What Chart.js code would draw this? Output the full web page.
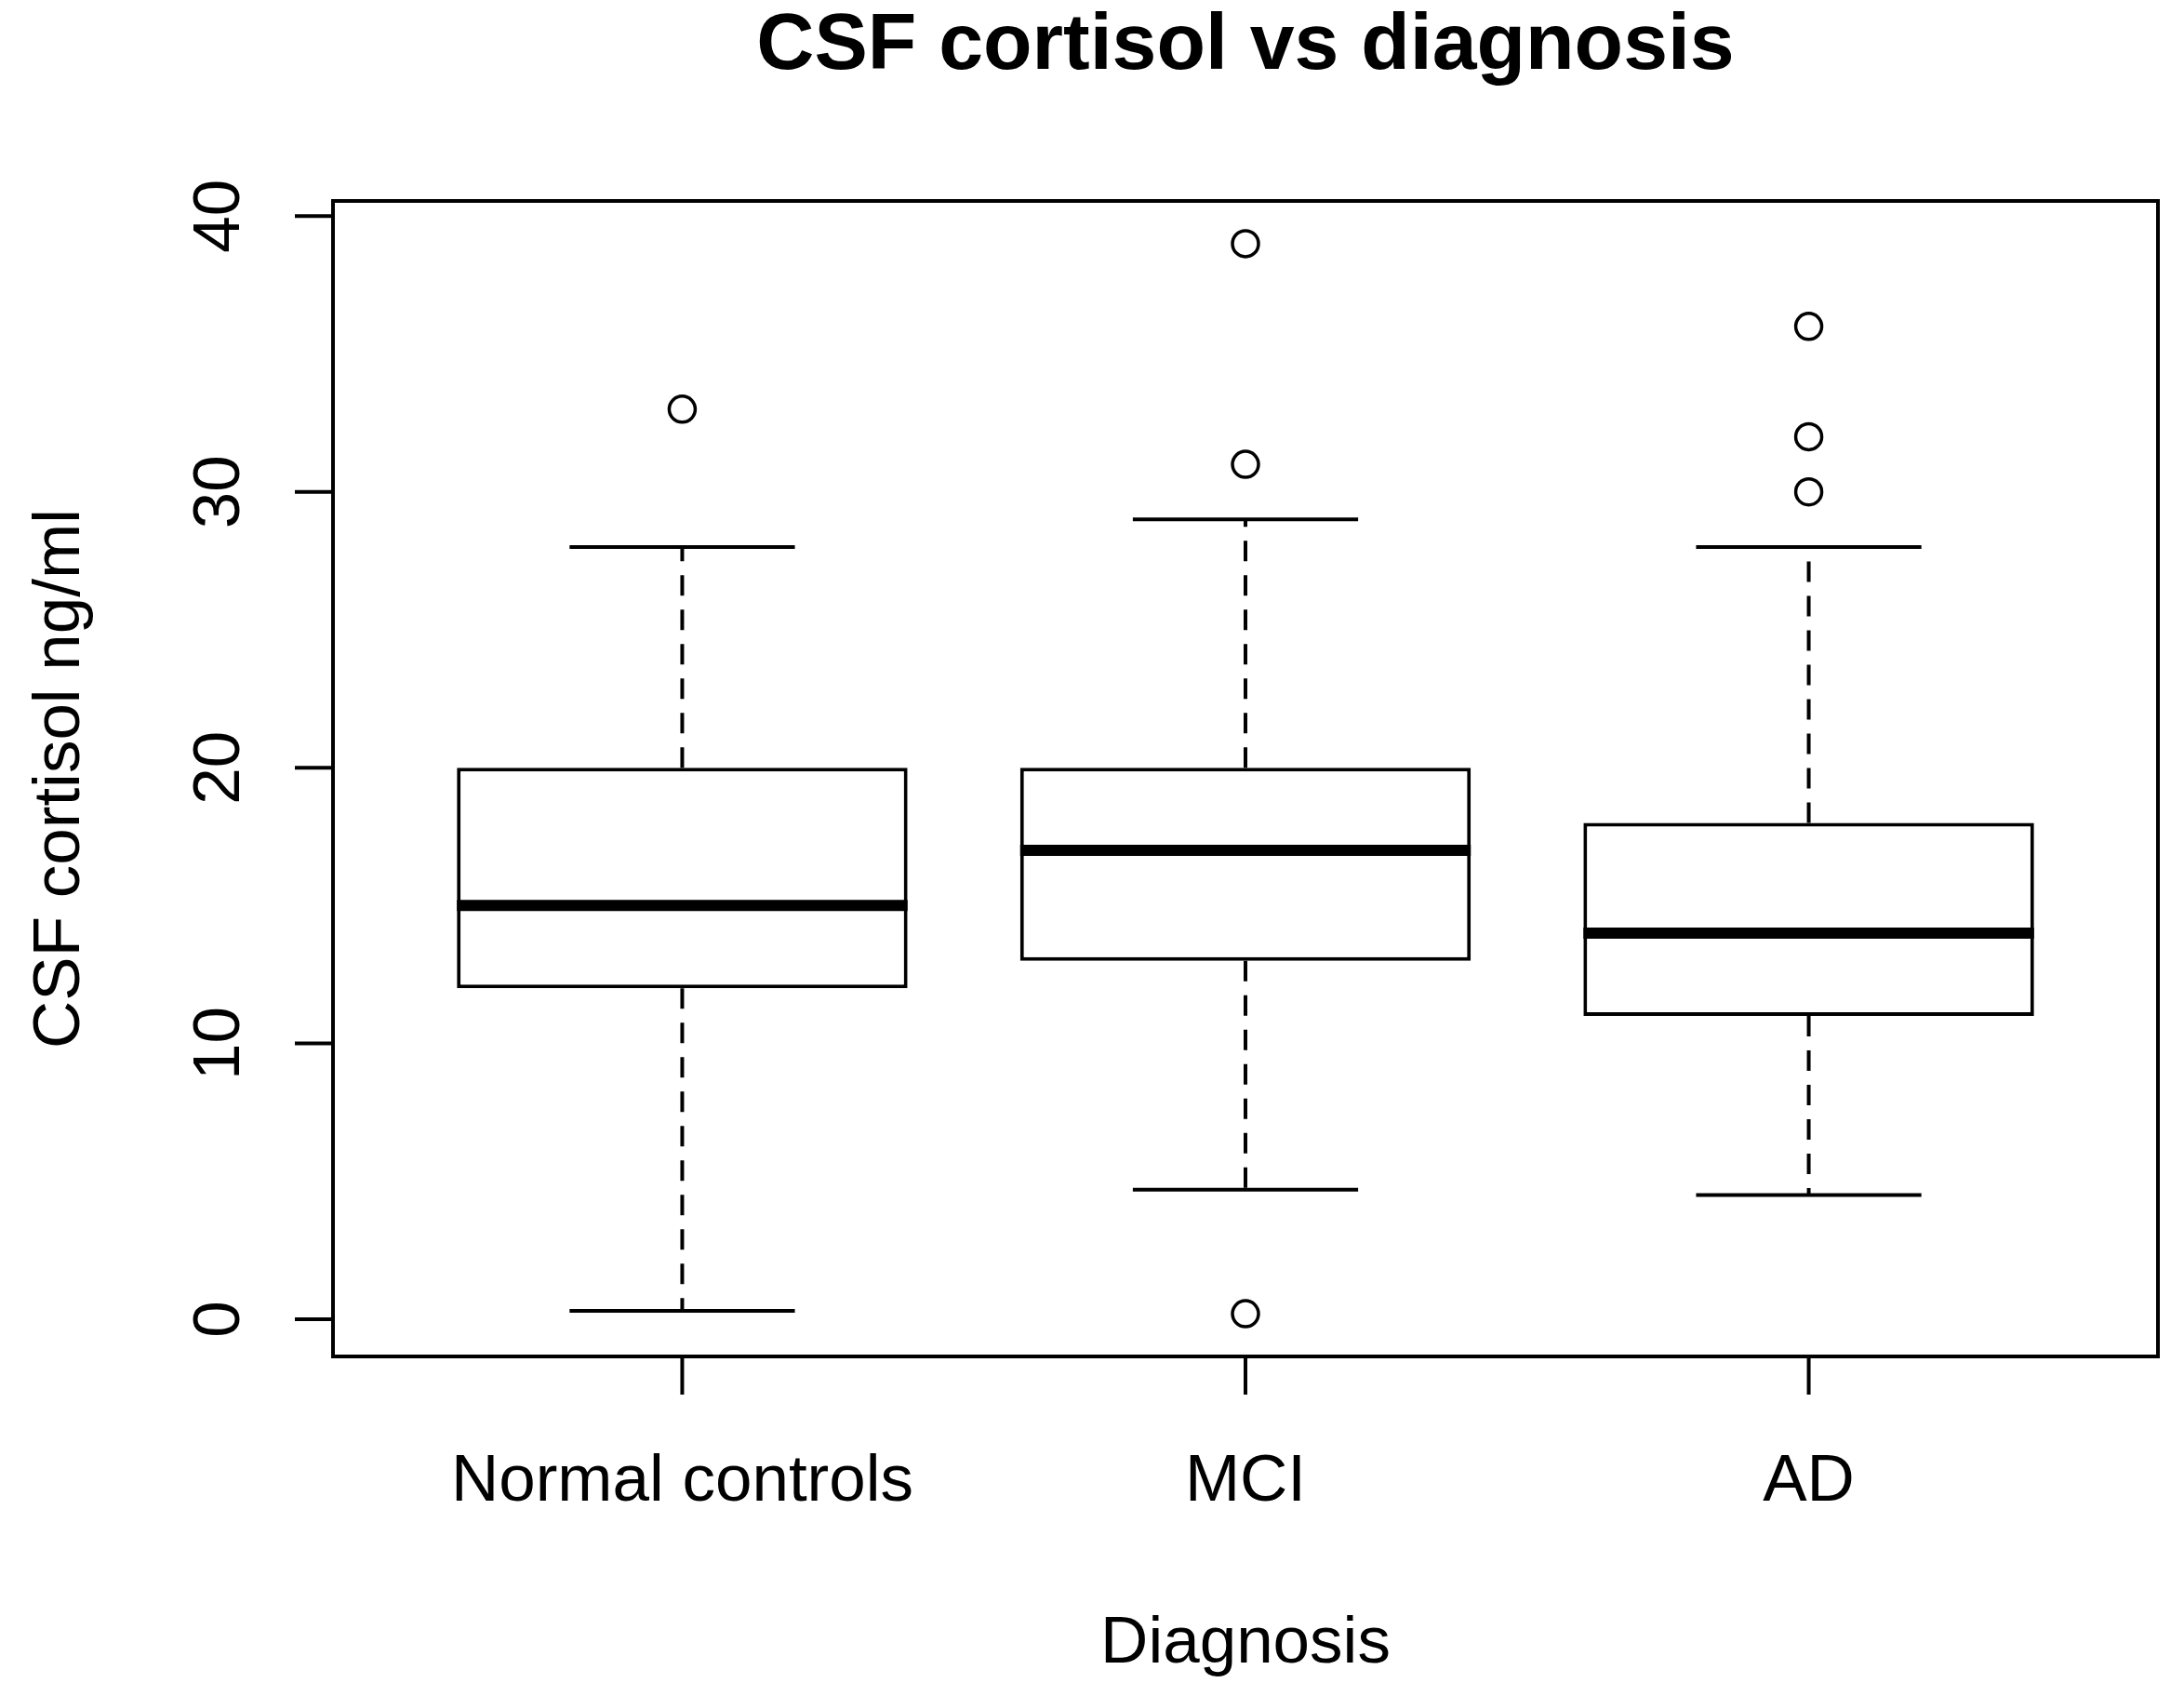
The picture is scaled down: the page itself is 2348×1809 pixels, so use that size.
<!DOCTYPE html>
<html>
<head>
<meta charset="utf-8">
<title>CSF cortisol vs diagnosis</title>
<script src="https://cdn.jsdelivr.net/npm/chart.js@4.4.1/dist/chart.umd.min.js"></script>
<style>
  html, body { margin: 0; padding: 0; background: #fff; overflow: hidden; }
  canvas { display: block; }
</style>
</head>
<body>
<canvas id="boxchart" width="2348" height="1809"></canvas>
<script>
// valores
const groups = ['Normal controls', 'MCI', 'AD']
const positions = [1, 2, 3]
const lowerWhisker = [0.3, 4.7, 4.5]
const q1 = [12, 13, 11]
const medians = [15, 17, 14]
const q3 = [20, 20, 18]
const upperWhisker = [28, 29, 28]
const outliers = [[33], [39, 31, 0.2], [36, 32, 30]]
const yTicks = [0, 10, 20, 30, 40]

const FONT = '"Liberation Sans", Arial, sans-serif'
const BOX_HALF = 0.4
const CAP_HALF = 0.2

const outlierPoints = []
outliers.forEach((vals, i) => {
  vals.forEach(v => outlierPoints.push({ x: positions[i], y: v }))
})

const rText = (ctx, text, x, y, font, align, rotate) => {
  ctx.save()
  ctx.translate(x, y)
  if (rotate) ctx.rotate(-Math.PI / 2)
  ctx.font = font
  ctx.fillStyle = '#000'
  ctx.textAlign = align
  ctx.textBaseline = 'alphabetic'
  ctx.fillText(text, 0, 0)
  ctx.restore()
}

const boxPlugin = {
  id: 'boxPlugin',
  afterDatasetsDraw(chart) {
    const ctx = chart.ctx
    const xs = chart.scales.x
    const ys = chart.scales.y
    ctx.save()
    ctx.strokeStyle = '#000'
    positions.forEach((p, i) => {
      const cx = xs.getPixelForValue(p)
      const capL = xs.getPixelForValue(p - CAP_HALF)
      const capR = xs.getPixelForValue(p + CAP_HALF)
      // whiskers
      ctx.lineWidth = 4
      ctx.lineCap = 'butt'
      ctx.setLineDash([22, 15])
      ctx.beginPath()
      ctx.moveTo(cx, ys.getPixelForValue(q3[i]))
      ctx.lineTo(cx, ys.getPixelForValue(upperWhisker[i]))
      ctx.moveTo(cx, ys.getPixelForValue(q1[i]))
      ctx.lineTo(cx, ys.getPixelForValue(lowerWhisker[i]))
      ctx.stroke()
      ctx.setLineDash([])
      ctx.beginPath()
      ctx.moveTo(capL, ys.getPixelForValue(upperWhisker[i]))
      ctx.lineTo(capR, ys.getPixelForValue(upperWhisker[i]))
      ctx.moveTo(capL, ys.getPixelForValue(lowerWhisker[i]))
      ctx.lineTo(capR, ys.getPixelForValue(lowerWhisker[i]))
      ctx.stroke()
      // median
      ctx.lineWidth = 12
      ctx.beginPath()
      ctx.moveTo(xs.getPixelForValue(p - BOX_HALF), ys.getPixelForValue(medians[i]))
      ctx.lineTo(xs.getPixelForValue(p + BOX_HALF), ys.getPixelForValue(medians[i]))
      ctx.stroke()
    })
    ctx.restore()
  },
  afterDraw(chart) {
    const ctx = chart.ctx
    const a = chart.chartArea
    const xs = chart.scales.x
    const ys = chart.scales.y
    const tickLen = 41
    ctx.save()
    ctx.strokeStyle = '#000'
    ctx.lineWidth = 4
    ctx.strokeRect(a.left, a.top, a.right - a.left, a.bottom - a.top)

    // eje y
    ctx.beginPath()
    ctx.moveTo(a.left, ys.getPixelForValue(yTicks[0]))
    ctx.lineTo(a.left, ys.getPixelForValue(yTicks[yTicks.length - 1]))
    yTicks.forEach(t => {
      const py = ys.getPixelForValue(t)
      ctx.moveTo(a.left - tickLen, py)
      ctx.lineTo(a.left, py)
    })
    // eje x
    positions.forEach(p => {
      const px = xs.getPixelForValue(p)
      ctx.moveTo(px, a.bottom)
      ctx.lineTo(px, a.bottom + tickLen)
    })
    ctx.stroke()
    ctx.restore()

    yTicks.forEach(t => {
      rText(ctx, String(t), 257, ys.getPixelForValue(t), '71px ' + FONT, 'center', true)
    })
    groups.forEach((g, i) => {
      rText(ctx, g, xs.getPixelForValue(positions[i]), 1613, '71px ' + FONT, 'center', false)
    })
    const midX = (a.left + a.right) / 2
    const midY = (a.top + a.bottom) / 2
    rText(ctx, 'CSF cortisol vs diagnosis', midX, 74, 'bold 86px ' + FONT, 'center', false)
    rText(ctx, 'Diagnosis', midX, 1787, '71px ' + FONT, 'center', false)
    rText(ctx, 'CSF cortisol ng/ml', 85, midY, '71px ' + FONT, 'center', true)
  }
}

const config = {
  type: 'scatter',
  data: {
    datasets: [
      {
        type: 'bar',
        label: 'Caja',
        data: positions.map((p, i) => ({ x: p, y: [q1[i], q3[i]] })),
        backgroundColor: '#ffffff',
        borderColor: '#000000',
        borderWidth: 4,
        borderSkipped: false,
        barPercentage: 1,
        categoryPercentage: BOX_HALF * 2,
        order: 2
      },
      {
        type: 'scatter',
        label: 'Atipicos',
        data: outlierPoints,
        pointRadius: 14,
        pointBorderWidth: 3.5,
        pointBackgroundColor: 'rgba(0,0,0,0)',
        pointBorderColor: '#000000',
        order: 1
      }
    ]
  },
  options: {
    responsive: false,
    animation: false,
    layout: { padding: { left: 358, top: 216, right: 28, bottom: 351 } },
    scales: {
      x: {
        type: 'linear',
        min: 0.38,
        max: 3.62,
        offset: false,
        display: false,
        afterBuildTicks: scale => { scale.ticks = positions.map(v => ({ value: v })) }
      },
      y: {
        type: 'linear',
        min: -1.35,
        max: 40.55,
        display: false
      }
    },
    plugins: {
      legend: { display: false },
      tooltip: { enabled: false }
    }
  },
  plugins: [boxPlugin]
}

document.addEventListener('DOMContentLoaded', () => {
  new Chart(document.querySelector('#boxchart'), config)
})
</script>
</body>
</html>
